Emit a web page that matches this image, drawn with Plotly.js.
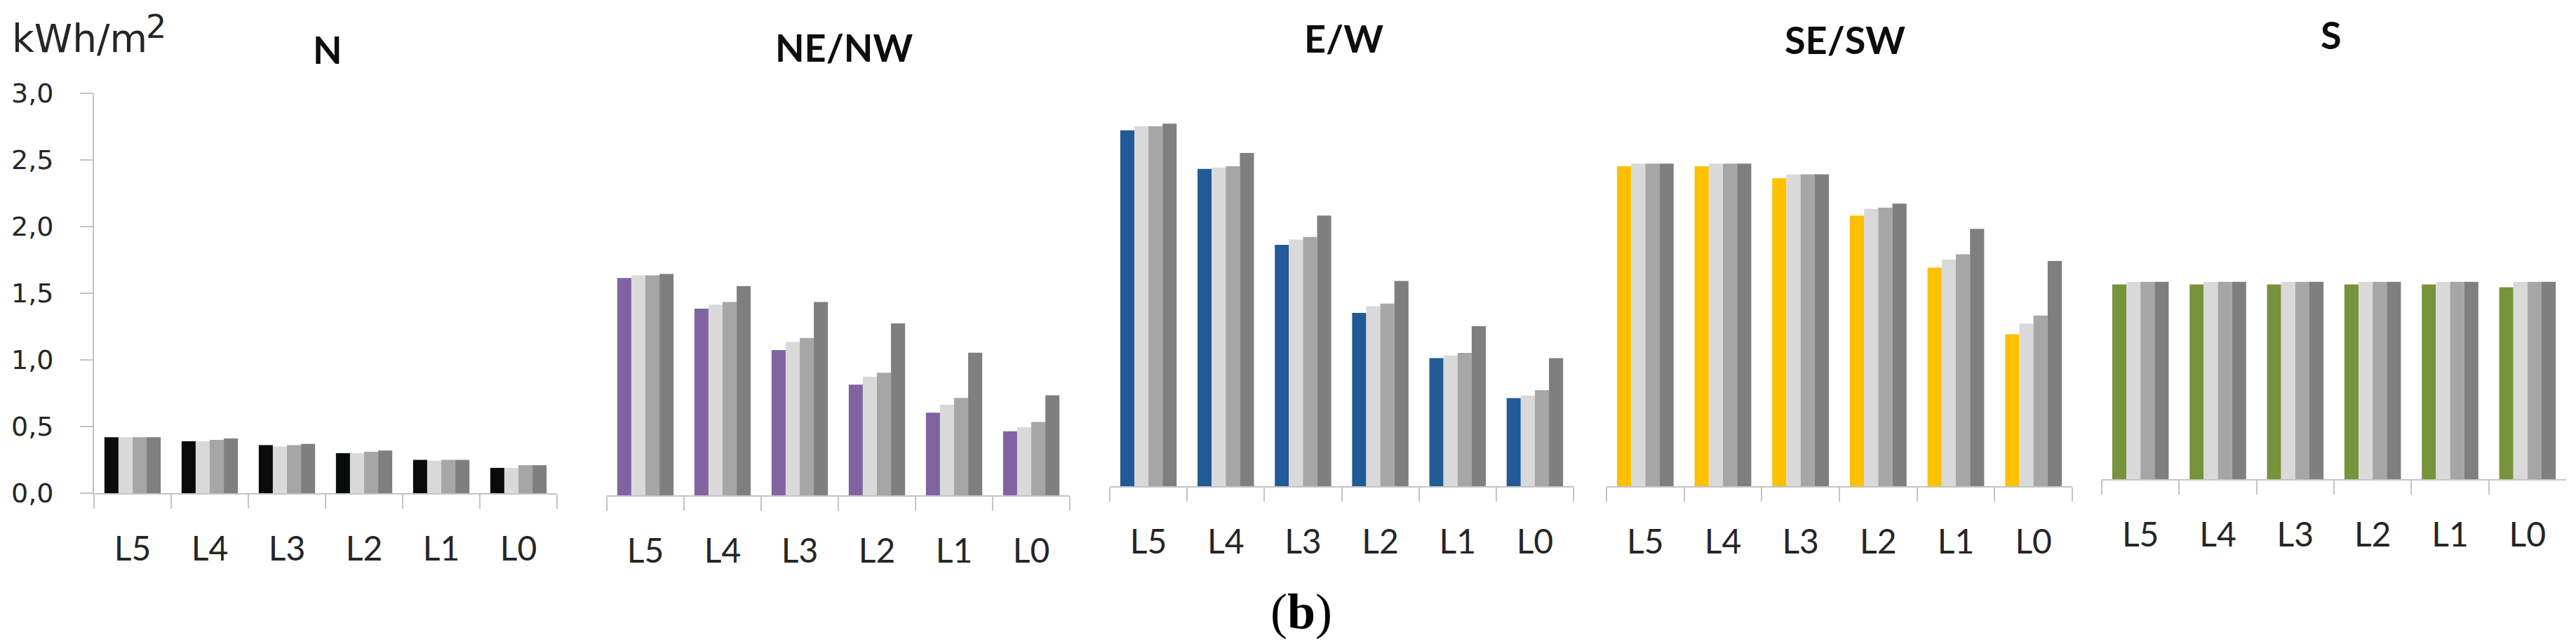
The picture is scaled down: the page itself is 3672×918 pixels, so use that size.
<!DOCTYPE html>
<html>
<head>
<meta charset="utf-8">
<script src="https://cdn.plot.ly/plotly-3.0.1.min.js"></script>
<style>
  html, body { margin: 0; padding: 0; background: #fff; }
  #chart { width: 3672px; height: 918px; }
</style>
</head>
<body>
<div id="chart"></div>
<script>
// levels on the x axis of each panel
const levels = ['L5', 'L4', 'L3', 'L2', 'L1', 'L0'];
const orientations = ['N', 'NE/NW', 'E/W', 'SE/SW', 'S'];

// kWh/m2, 4 bars per level
const nS1 = [0.42, 0.39, 0.36, 0.30, 0.25, 0.19];
const nS2 = [0.42, 0.39, 0.35, 0.30, 0.245, 0.19];
const nS3 = [0.42, 0.40, 0.36, 0.31, 0.25, 0.21];
const nS4 = [0.42, 0.41, 0.37, 0.32, 0.25, 0.21];

const neS1 = [1.63, 1.40, 1.09, 0.83, 0.62, 0.48];
const neS2 = [1.65, 1.43, 1.15, 0.89, 0.68, 0.51];
const neS3 = [1.65, 1.45, 1.18, 0.92, 0.73, 0.55];
const neS4 = [1.66, 1.57, 1.45, 1.29, 1.07, 0.75];

const ewS1 = [2.67, 2.38, 1.81, 1.30, 0.96, 0.66];
const ewS2 = [2.70, 2.39, 1.85, 1.35, 0.98, 0.68];
const ewS3 = [2.70, 2.40, 1.87, 1.37, 1.00, 0.72];
const ewS4 = [2.72, 2.50, 2.03, 1.54, 1.20, 0.96];

const seS1 = [2.40, 2.40, 2.31, 2.03, 1.64, 1.14];
const seS2 = [2.42, 2.42, 2.34, 2.08, 1.70, 1.22];
const seS3 = [2.42, 2.42, 2.34, 2.09, 1.74, 1.28];
const seS4 = [2.42, 2.42, 2.34, 2.12, 1.93, 1.69];

const sS1 = [1.46, 1.46, 1.46, 1.46, 1.46, 1.44];
const sS2 = [1.48, 1.48, 1.48, 1.48, 1.48, 1.48];
const sS3 = [1.48, 1.48, 1.48, 1.48, 1.48, 1.48];
const sS4 = [1.48, 1.48, 1.48, 1.48, 1.48, 1.48];

const panelData = [
  [nS1, nS2, nS3, nS4],
  [neS1, neS2, neS3, neS4],
  [ewS1, ewS2, ewS3, ewS4],
  [seS1, seS2, seS3, seS4],
  [sS1, sS2, sS3, sS4]
];

const firstColors = ['#0a0c0c', '#8064a2', '#215a96', '#ffc000', '#77933c'];
const grays = ['#d9d9d9', '#a6a6a6', '#7f7f7f'];

const W = 3672, H = 918;
// panel boxes in pixels: [left, right, baseline]
const boxes = [
  [134, 794, 703],
  [865, 1525, 706],
  [1582, 2243, 693],
  [2290, 2954, 693],
  [2996, 3658, 683]
];
const pxPerUnit = 190;

let traces = [];
let layout = {
  width: W, height: H,
  margin: {l: 0, r: 0, t: 0, b: 0},
  paper_bgcolor: '#fff',
  plot_bgcolor: 'rgba(0,0,0,0)',
  showlegend: false,
  barmode: 'group',
  bargap: 0.27,
  bargroupgap: 0,
  separators: ',.',
  font: {family: 'Lato, sans-serif', color: '#262626'},
  annotations: []
};

panelData.forEach((series, p) => {
  let sfx = p === 0 ? '' : String(p + 1);
  series.forEach((vals, k) => {
    traces.push({
      type: 'bar',
      x: levels,
      y: vals,
      xaxis: 'x' + sfx,
      yaxis: 'y' + sfx,
      marker: {color: k === 0 ? firstColors[p] : grays[k - 1], line: {width: 0}},
      hoverinfo: 'skip'
    });
  });

  let b = boxes[p];
  let top = b[2] - 3 * pxPerUnit;
  layout['xaxis' + sfx] = {
    domain: [b[0] / W, b[1] / W],
    anchor: 'y' + sfx,
    type: 'category',
    showline: true, linecolor: '#c4c4c4', linewidth: 2,
    ticks: 'outside', tickson: 'boundaries', ticklen: 20, tickwidth: 2, tickcolor: '#c4c4c4',
    ticklabelstandoff: 36,
    tickfont: {family: 'Lato, sans-serif', size: 48, color: '#262626'},
    showgrid: false, zeroline: false, fixedrange: true
  };
  layout['yaxis' + sfx] = {
    domain: [1 - b[2] / H, 1 - top / H],
    anchor: 'x' + sfx,
    range: [0, 3],
    dtick: 0.5,
    tickformat: '.1f',
    visible: p === 0,
    showline: true, linecolor: '#c4c4c4', linewidth: 2,
    ticks: 'outside', ticklen: 18, tickwidth: 2, tickcolor: '#c4c4c4',
    ticklabelstandoff: 30,
    tickfont: {family: 'DejaVu Sans, sans-serif', size: 38, color: '#262626'},
    showgrid: false, zeroline: false, fixedrange: true
  };
});

// panel titles
const titlePos = [[467, 70], [1203, 67], [1915, 55], [2630, 56], [3323, 50]];
orientations.forEach((t, i) => {
  layout.annotations.push({
    text: '<b>' + t + '</b>', xref: 'paper', yref: 'paper',
    x: titlePos[i][0] / W, y: 1 - titlePos[i][1] / H,
    xanchor: 'center', yanchor: 'middle', showarrow: false,
    font: {family: 'Lato, sans-serif', size: 54, color: '#0d0d0d'}
  });
});

// unit label with the big superscript
layout.annotations.push({
  text: 'kWh/m', xref: 'paper', yref: 'paper',
  x: 15 / W, y: 1 - 55 / H, xanchor: 'left', yanchor: 'middle', showarrow: false,
  font: {family: 'DejaVu Sans, sans-serif', size: 55, color: '#262626'}
});
layout.annotations.push({
  text: '2', xref: 'paper', yref: 'paper',
  x: 206 / W, y: 1 - 38 / H, xanchor: 'left', yanchor: 'middle', showarrow: false,
  font: {family: 'DejaVu Sans, sans-serif', size: 46, color: '#262626'}
});

// sub-figure label
layout.annotations.push({
  text: '(<b>b</b>)', xref: 'paper', yref: 'paper',
  x: 1855 / W, y: 1 - 872 / H, xanchor: 'center', yanchor: 'middle', showarrow: false,
  font: {family: 'Liberation Serif, serif', size: 72, color: '#000'}
});

Plotly.newPlot('chart', traces, layout, {staticPlot: true, displayModeBar: false});
</script>
</body>
</html>
